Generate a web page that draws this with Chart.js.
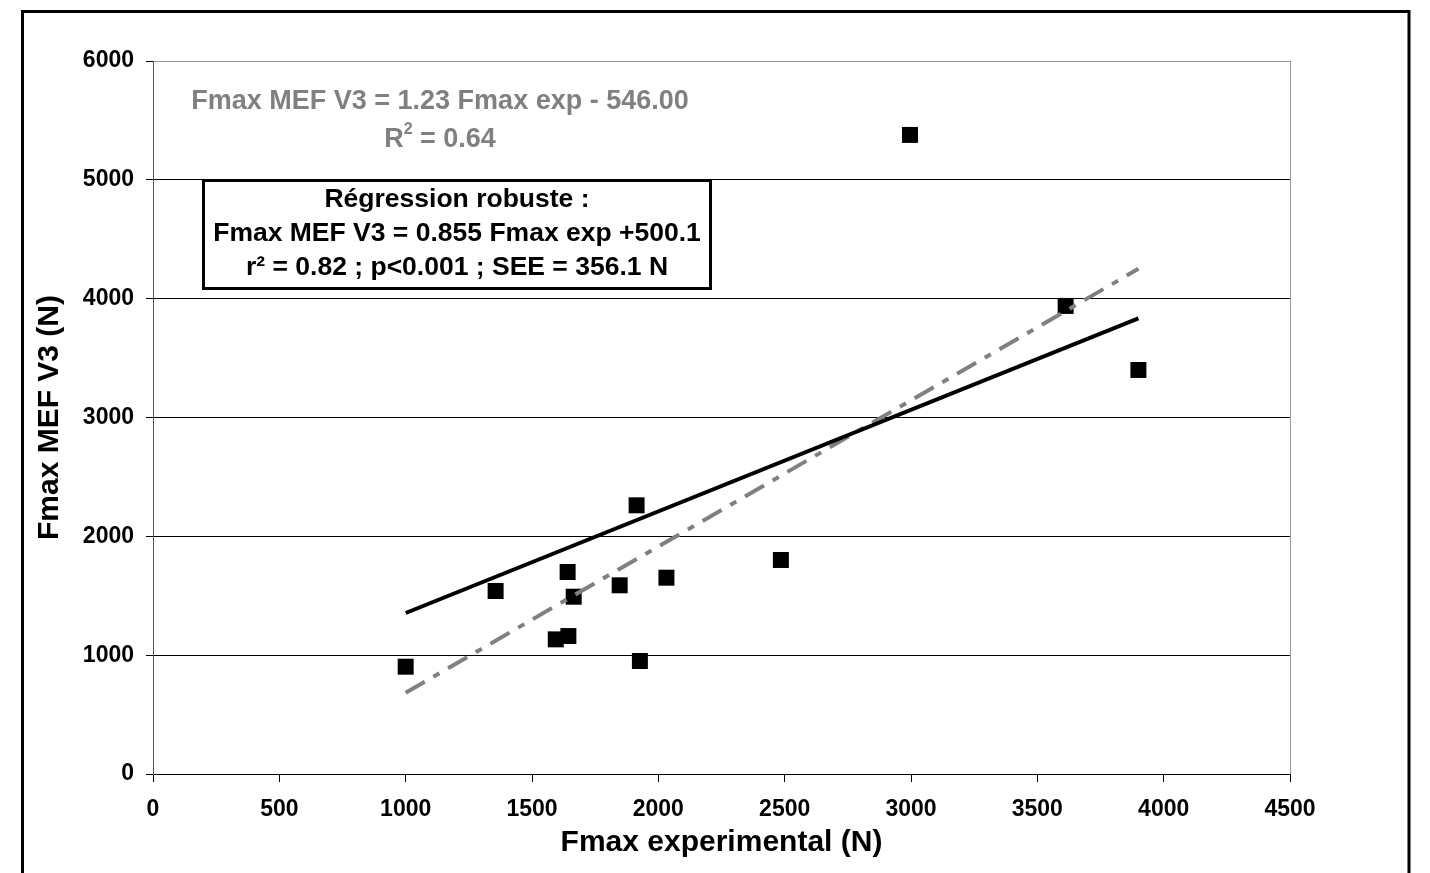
<!DOCTYPE html>
<html>
<head>
<meta charset="utf-8">
<script src="https://cdn.jsdelivr.net/npm/chart.js@4"></script>
<style>
html, body { margin: 0; padding: 0; background: #fff; }
</style>
</head>
<body>
<canvas id="myChart" width="1430" height="873"></canvas>
<script>
// Points mesurés (Fmax expérimental, Fmax MEF V3)
const fmaxExp = [1000, 1356, 1594, 1644, 1641, 1665, 1847, 1914, 1927, 2032, 2485, 2996, 3612, 3900];
const fmaxMef = [903, 1540, 1133, 1161, 1700, 1492, 1588, 2261, 951, 1652, 1801, 5378, 3939, 3400];

// Extrémités des droites
const robusteX = [1000, 3900];
const robusteY = [1355, 3835];
const lineaireX = [1000, 3900];
const lineaireY = [684, 4251];

const xTicks = [0, 500, 1000, 1500, 2000, 2500, 3000, 3500, 4000, 4500];
const yTicks = [0, 1000, 2000, 3000, 4000, 5000, 6000];

const police = "'Liberation Sans', Arial, sans-serif";

function paires(xs, ys) {
    return xs.map((x, i) => ({ x: x, y: ys[i] }));
}

// Cadre extérieur + annotations texte
const annotations = {
    id: 'annotations',
    beforeDraw(chart) {
        const c = chart.ctx;
        c.save();
        c.fillStyle = '#fff';
        c.fillRect(0, 0, chart.width, chart.height);
        c.strokeStyle = '#000';
        c.lineWidth = 3;
        c.strokeRect(22.5, 11.5, 1386.5, 900);
        c.restore();
    },
    afterDraw(chart) {
        const c = chart.ctx;
        c.save();
        c.textAlign = 'center';
        c.textBaseline = 'middle';
        c.fillStyle = '#808080';
        c.font = 'bold 27px ' + police;
        c.fillText('Fmax MEF V3 = 1.23 Fmax exp - 546.00', 440, 102);

        // R² avec exposant
        const a = 'R', b = '2', d = ' = 0.64';
        c.font = 'bold 27px ' + police;
        const wa = c.measureText(a).width, wd = c.measureText(d).width;
        c.font = 'bold 16px ' + police;
        const wb = c.measureText(b).width;
        let x0 = 440 - (wa + wb + wd) / 2;
        c.textAlign = 'left';
        c.font = 'bold 27px ' + police;
        c.fillText(a, x0, 140);
        c.font = 'bold 16px ' + police;
        c.fillText(b, x0 + wa, 130);
        c.font = 'bold 27px ' + police;
        c.fillText(d, x0 + wa + wb, 140);

        // Encadré régression robuste
        c.fillStyle = '#fff';
        c.fillRect(202, 179, 510, 111);
        c.strokeStyle = '#000';
        c.lineWidth = 3;
        c.strokeRect(203.5, 180.5, 507, 108);
        c.fillStyle = '#000';
        c.textAlign = 'center';
        c.font = 'bold 26.5px ' + police;
        c.fillText('Régression robuste :', 457, 200);
        c.fillText('Fmax MEF V3 = 0.855 Fmax exp +500.1', 457, 234);
        c.fillText('r² = 0.82 ; p<0.001 ; SEE = 356.1 N', 457, 268);
        c.restore();
    }
};

const ctx = document.getElementById('myChart');

new Chart(ctx, {
    type: 'scatter',
    data: {
        datasets: [
            {
                label: 'Régression robuste',
                type: 'line',
                data: paires(robusteX, robusteY),
                borderColor: '#000',
                borderWidth: 4,
                pointRadius: 0,
                fill: false,
                order: 0
            },
            {
                label: 'Régression linéaire',
                type: 'line',
                data: paires(lineaireX, lineaireY),
                borderColor: '#808080',
                borderWidth: 4,
                borderDash: [22, 10, 7, 10],
                pointRadius: 0,
                fill: false,
                order: 0
            },
            {
                label: 'Mesures',
                data: paires(fmaxExp, fmaxMef),
                pointStyle: 'rect',
                pointRadius: 11.3,
                pointHoverRadius: 11.3,
                backgroundColor: '#000',
                borderColor: '#000',
                borderWidth: 0,
                order: 1
            }
        ]
    },
    options: {
        responsive: false,
        animation: false,
        layout: { padding: { left: 22, top: 61, right: 140, bottom: 0 } },
        plugins: {
            legend: { display: false },
            tooltip: { enabled: false }
        },
        scales: {
            x: {
                type: 'linear',
                min: 0,
                max: 4500,
                afterBuildTicks: (axis) => { axis.ticks = xTicks.map(v => ({ value: v })); },
                afterFit: (axis) => { axis.height = 99; },
                ticks: {
                    color: '#000',
                    padding: 14,
                    callback: (v) => String(v),
                    font: { family: police, size: 23, weight: 'bold' }
                },
                grid: {
                    color: (c) => (c.tick && c.tick.value === 4500) ? '#999' : 'rgba(0,0,0,0)',
                    tickColor: '#000',
                    tickLength: 8,
                    lineWidth: 1
                },
                border: { color: '#000', width: 1 },
                title: {
                    display: true,
                    text: 'Fmax experimental (N)',
                    color: '#000',
                    font: { family: police, size: 30, weight: 'bold' },
                    padding: { top: 0, bottom: 12 }
                }
            },
            y: {
                min: 0,
                max: 6000,
                afterBuildTicks: (axis) => { axis.ticks = yTicks.map(v => ({ value: v })); },
                afterFit: (axis) => { axis.width = 131; },
                ticks: {
                    color: '#000',
                    padding: 12,
                    callback: (v) => String(v),
                    font: { family: police, size: 23, weight: 'bold' }
                },
                grid: {
                    color: (c) => (c.tick && c.tick.value === 6000) ? '#999' : '#000',
                    tickColor: '#000',
                    tickLength: 7,
                    lineWidth: 1
                },
                border: { color: '#555', width: 1 },
                title: {
                    display: true,
                    text: 'Fmax MEF V3 (N)',
                    color: '#000',
                    font: { family: police, size: 30, weight: 'bold' },
                    padding: { top: 10, bottom: 0 }
                }
            }
        }
    },
    plugins: [annotations]
});
</script>
</body>
</html>
